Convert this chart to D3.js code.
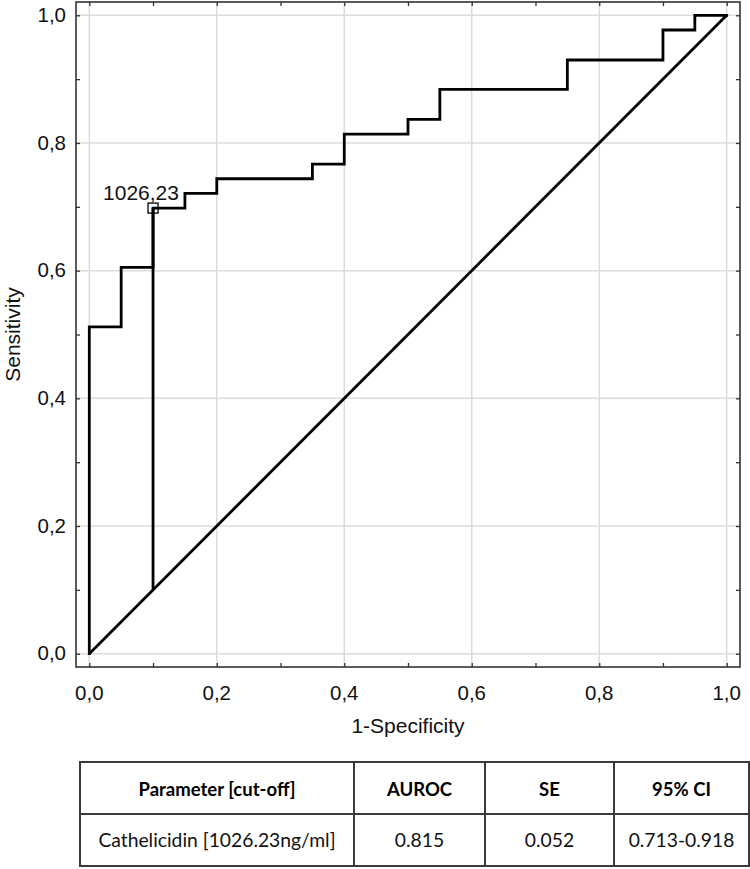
<!DOCTYPE html>
<html>
<head>
<meta charset="utf-8">
<script src="https://cdn.jsdelivr.net/npm/d3@7"></script>
<style>
  html, body { margin: 0; padding: 0; background: #fff; }
  svg { display: block; }
</style>
</head>
<body>
<div id="chart"></div>
<script>
// ---- data ----
const rocFpr = [0, 0.05, 0.10, 0.15, 0.20, 0.35, 0.40, 0.50, 0.55, 0.75, 0.90, 0.95, 1.0];
const rocTpr = [0, 0.512, 0.605, 0.698, 0.721, 0.744, 0.767, 0.814, 0.837, 0.884, 0.930, 0.977, 1.0];
const refFpr = [0, 1];
const refTpr = [0, 1];
const cutoffFpr = [0.10, 0.10];
const cutoffTpr = [0.10, 0.698];
const cutoffLabel = ["1026,23"];
const tickValues = [0, 0.2, 0.4, 0.6, 0.8, 1.0];
const tickLabels = ["0,0", "0,2", "0,4", "0,6", "0,8", "1,0"];
const minorTicks = [0, 0.1, 0.2, 0.3, 0.4, 0.5, 0.6, 0.7, 0.8, 0.9, 1.0];
const xTitle = "1-Specificity";
const yTitle = "Sensitivity";
const tableHeader = ["Parameter [cut-off]", "AUROC", "SE", "95% CI"];
const tableRow = ["Cathelicidin [1026.23ng/ml]", "0.815", "0.052", "0.713-0.918"];

// ---- layout ----
const W = 750, H = 869;
const frame = { left: 76, right: 740, top: 2, bottom: 667 };
const pad = 13.3;
const font = "'Liberation Sans', Arial, sans-serif";

const svg = d3.select("#chart").append("svg")
  .attr("width", W).attr("height", H)
  .style("background", "#fff");

const x = d3.scaleLinear().domain([0, 1]).range([frame.left + pad, frame.right - pad]);
const y = d3.scaleLinear().domain([0, 1]).range([frame.bottom - pad, frame.top + pad]);

// grid
const grid = svg.append("g");
grid.selectAll(".vg").data(tickValues).join("line")
  .attr("x1", d => x(d)).attr("x2", d => x(d))
  .attr("y1", frame.top).attr("y2", frame.bottom)
  .attr("stroke", "#dcdcdc").attr("stroke-width", 1.5);
grid.selectAll(".hg").data(tickValues).join("line")
  .attr("y1", d => y(d)).attr("y2", d => y(d))
  .attr("x1", frame.left).attr("x2", frame.right)
  .attr("stroke", "#dcdcdc").attr("stroke-width", 1.5);

// axes (inward ticks on all sides)
const tickLen = 4;
const axStyle = g => {
  g.select(".domain").remove();
  g.selectAll(".tick line").attr("stroke", "#333").attr("stroke-width", 1.3);
  g.selectAll("text").remove();
};
svg.append("g").attr("transform", `translate(0,${frame.bottom})`)
  .call(d3.axisBottom(x).tickValues(minorTicks).tickSize(-tickLen)).call(axStyle);
svg.append("g").attr("transform", `translate(0,${frame.top})`)
  .call(d3.axisTop(x).tickValues(minorTicks).tickSize(-tickLen)).call(axStyle);
svg.append("g").attr("transform", `translate(${frame.left},0)`)
  .call(d3.axisLeft(y).tickValues(minorTicks).tickSize(-tickLen)).call(axStyle);
svg.append("g").attr("transform", `translate(${frame.right},0)`)
  .call(d3.axisRight(y).tickValues(minorTicks).tickSize(-tickLen)).call(axStyle);

// frame
svg.append("rect")
  .attr("x", frame.left).attr("y", frame.top)
  .attr("width", frame.right - frame.left).attr("height", frame.bottom - frame.top)
  .attr("fill", "none").attr("stroke", "#333").attr("stroke-width", 1.6);

// tick labels
const fs = 20.5;
svg.append("g").selectAll("text").data(tickValues).join("text")
  .attr("x", d => x(d)).attr("y", 700)
  .attr("text-anchor", "middle")
  .attr("font-family", font).attr("font-size", fs).attr("fill", "#111")
  .text((d, i) => tickLabels[i]);
svg.append("g").selectAll("text").data(tickValues).join("text")
  .attr("x", 66).attr("y", d => y(d)).attr("dy", "0.33em")
  .attr("text-anchor", "end")
  .attr("font-family", font).attr("font-size", fs).attr("fill", "#111")
  .text((d, i) => tickLabels[i]);

// axis titles
svg.append("text")
  .attr("x", (x(0) + x(1)) / 2).attr("y", 733)
  .attr("text-anchor", "middle")
  .attr("font-family", font).attr("font-size", 21).attr("fill", "#111")
  .text(xTitle);
svg.append("text")
  .attr("transform", `translate(20,${(y(0) + y(1)) / 2}) rotate(-90)`)
  .attr("text-anchor", "middle")
  .attr("font-family", font).attr("font-size", 21).attr("fill", "#111")
  .text(yTitle);

// reference diagonal
const line = d3.line().x(d => x(d[0])).y(d => y(d[1]));
const lw = 2.8;
svg.append("path")
  .datum(d3.zip(refFpr, refTpr))
  .attr("d", line)
  .attr("fill", "none").attr("stroke", "#000").attr("stroke-width", lw);

// cutoff vertical (Youden)
svg.append("path")
  .datum(d3.zip(cutoffFpr, cutoffTpr))
  .attr("d", line)
  .attr("fill", "none").attr("stroke", "#000").attr("stroke-width", lw);

// ROC curve
svg.append("path")
  .datum(d3.zip(rocFpr, rocTpr))
  .attr("d", line.curve(d3.curveStepBefore))
  .attr("fill", "none").attr("stroke", "#000").attr("stroke-width", lw)
  .attr("stroke-linejoin", "miter").attr("stroke-linecap", "square");

// cutoff marker
const ms = 10;
svg.append("rect")
  .attr("x", x(cutoffFpr[1]) - ms / 2).attr("y", y(cutoffTpr[1]) - ms / 2)
  .attr("width", ms).attr("height", ms)
  .attr("fill", "none").attr("stroke", "#000").attr("stroke-width", 1.3);
svg.append("text")
  .attr("x", x(cutoffFpr[1]) - 50).attr("y", y(cutoffTpr[1]) - 8)
  .attr("font-family", font).attr("font-size", 21).attr("fill", "#111")
  .text(cutoffLabel[0]);

// ---- table ----
const tbl = { left: 80, right: 749, top: 762, mid: 814, bottom: 866 };
const colEdges = [tbl.left, 354, 485, 614, tbl.right];
const tfont = "Lato, 'Open Sans', sans-serif";
const tg = svg.append("g");
tg.selectAll(".hl").data([tbl.top, tbl.mid, tbl.bottom]).join("line")
  .attr("x1", tbl.left).attr("x2", tbl.right)
  .attr("y1", d => d).attr("y2", d => d)
  .attr("stroke", "#3a3a3a").attr("stroke-width", 2);
tg.selectAll(".vl").data(colEdges).join("line")
  .attr("x1", d => d).attr("x2", d => d)
  .attr("y1", tbl.top - 1).attr("y2", tbl.bottom + 1)
  .attr("stroke", "#3a3a3a").attr("stroke-width", 2);
tg.selectAll(".th").data(tableHeader).join("text")
  .attr("x", (d, i) => (colEdges[i] + colEdges[i + 1]) / 2)
  .attr("y", 796)
  .attr("text-anchor", "middle")
  .attr("font-family", tfont).attr("font-weight", "bold").attr("font-size", 18.5)
  .attr("fill", "#000")
  .text(d => d);
tg.selectAll(".td").data(tableRow).join("text")
  .attr("x", (d, i) => (colEdges[i] + colEdges[i + 1]) / 2)
  .attr("y", 847)
  .attr("text-anchor", "middle")
  .attr("font-family", tfont).attr("font-size", 19.3)
  .attr("fill", "#111")
  .text(d => d);
</script>
</body>
</html>
